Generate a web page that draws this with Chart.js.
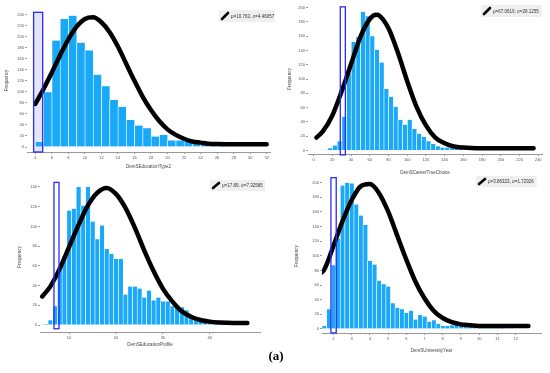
<!DOCTYPE html>
<html>
<head>
<meta charset="utf-8">
<script src="https://cdn.jsdelivr.net/npm/chart.js@4.4.1/dist/chart.umd.min.js"></script>
<style>
body { margin: 0; background: #fff; width: 550px; height: 373px; position: relative; overflow: hidden; }
canvas { position: absolute; }
#caption { position: absolute; left: 0; top: 348px; width: 552px; text-align: center; line-height: 16px;
	font: bold 13px "Liberation Serif", "DejaVu Serif", serif; color: #000; }
</style>
</head>
<body>
<canvas id="c1" width="271" height="169" style="left:4px;top:0px"></canvas>
<canvas id="c2" width="263" height="175" style="left:287px;top:0px"></canvas>
<canvas id="c3" width="248" height="172" style="left:17px;top:175px"></canvas>
<canvas id="c4" width="254" height="181" style="left:294px;top:172px"></canvas>
<div id="caption">(a)</div>
<script>
// panel 1 : DemSEducationType2
const p1Bins = [4.5, 5.5, 6.5, 7.5, 8.5, 9.5, 10.5, 11.5, 12.5, 13.5, 14.5, 15.5, 16.5, 17.5, 18.5, 19.5, 20.5, 21.5, 22.5, 23.5, 24.5, 25.5, 26.5, 27.5, 28.5, 29.5, 30.5, 31.5];
const p1Counts = [9, 99, 193, 232, 238, 189, 175, 131, 110, 85, 73, 49, 39, 34, 19, 22, 12, 12, 13, 12, 7, 7, 2, 1, 1, 1, 0, 1];
const p1CurveX = [4, 5, 6, 7, 8, 9, 10, 11, 12, 13, 14, 15, 16, 17, 18, 19, 20, 21, 22, 23, 24, 25, 26, 28, 30, 32];
const p1CurveY = [78, 105, 135, 166, 195, 218, 232, 235, 226, 208, 182, 151, 120, 91, 67, 47, 32, 22, 15, 10, 8, 6, 5.5, 5, 5, 5];
const p1XTicks = [4, 6, 8, 10, 12, 14, 16, 18, 20, 22, 24, 26, 28, 30, 32];
const p1YTicks = [0, 20, 40, 60, 80, 100, 120, 140, 160, 180, 200, 220, 240];

// panel 2 : DemSCareerTrueChoice
const p2Bins = [7.5, 12.5, 17.5, 22.5, 27.5, 32.5, 37.5, 42.5, 47.5, 52.5, 57.5, 62.5, 67.5, 72.5, 77.5, 82.5, 87.5, 92.5, 97.5, 102.5, 107.5, 112.5, 117.5, 122.5, 127.5, 132.5, 137.5, 142.5, 147.5, 152.5, 157.5, 162.5, 167.5, 172.5, 177.5, 182.5, 187.5, 192.5, 197.5, 202.5, 207.5, 212.5, 217.5];
const p2Counts = [1, 1, 3, 7, 13, 47, 108, 152, 159, 194, 188, 160, 141, 123, 86, 75, 61, 43, 36, 43, 30, 23, 19, 13, 9, 6, 4, 4, 3, 3, 4, 3, 2, 2, 1, 1, 1, 1, 1, 1, 1, 0, 1];
const p2CurveX = [3, 10, 20, 30, 40, 50, 60, 67, 70, 80, 90, 100, 110, 120, 130, 140, 150, 160, 175, 200, 235];
const p2CurveY = [18, 27, 49, 83, 121, 159, 184, 190, 189, 171, 137, 97, 61, 35, 18, 10, 5.5, 4, 3, 3, 3];
const p2XTicks = [0, 20, 40, 60, 80, 100, 120, 140, 160, 180, 200, 220, 240];
const p2YTicks = [0, 20, 40, 60, 80, 100, 120, 140, 160, 180, 200];

// panel 3 : DemSEducationProfile
const p3Bins = [5, 6, 7, 8, 9, 10, 11, 12, 13, 14, 15, 16, 17, 18, 19, 20, 21, 22, 23, 24, 25, 26, 27, 28, 29, 30, 31, 32, 33, 34, 35, 36, 37, 38, 39, 40, 41, 42, 43, 44, 45, 46];
const p3Counts = [1, 5, 19, 57, 70, 116, 118, 140, 121, 140, 105, 87, 101, 77, 72, 67, 67, 31, 39, 39, 37, 28, 35, 25, 28, 24, 24, 19, 18, 18, 15, 9, 6, 5, 4, 3, 3, 2, 1, 1, 1, 1];
const p3CurveX = [4.3, 6, 8, 10, 12, 14, 16, 18, 20, 22, 24, 26, 28, 30, 32, 34, 36, 38, 40, 42, 45, 48];
const p3CurveY = [29, 39, 57, 79, 101, 121, 134, 139, 133, 119, 99, 76, 55, 37, 24, 14, 8.5, 5.2, 3.5, 2.7, 2.2, 2.2];
const p3XTicks = [10, 20, 30, 40];
const p3YTicks = [0, 20, 40, 60, 80, 100, 120, 140];

// panel 4 : DemSUniversityYear
const p4Bins = [1.5, 1.75, 2, 2.25, 2.5, 2.75, 3, 3.25, 3.5, 3.75, 4, 4.25, 4.5, 4.75, 5, 5.25, 5.5, 5.75, 6, 6.25, 6.5, 6.75, 7, 7.25, 7.5, 7.75, 8, 8.25, 8.5, 8.75, 9, 9.25, 9.5, 9.75, 10, 10.25, 10.5, 10.75, 11, 11.25, 11.5, 11.75];
const p4Counts = [4, 27, 87, 123, 196, 200, 199, 170, 155, 142, 93, 88, 66, 61, 58, 35, 29, 27, 22, 25, 13, 19, 17, 10, 12, 7, 4, 4, 5, 6, 6, 4, 3, 4, 6, 3, 3, 5, 6, 2, 1, 1];
const p4CurveX = [1.35, 1.5, 2, 2.5, 3, 3.5, 4, 4.5, 5, 5.5, 6, 6.5, 7, 7.5, 8, 8.5, 9, 9.5, 10, 11, 12, 12.7];
const p4CurveY = [77, 81, 113, 147, 176, 195, 198, 186, 161, 128, 95, 65, 42, 25, 15, 9.3, 6.3, 5, 4, 4, 4, 4];
const p4XTicks = [2, 3, 4, 5, 6, 7, 8, 9, 10, 11, 12];
const p4YTicks = [0, 20, 40, 60, 80, 100, 120, 140, 160, 180, 200];

const xTitles = ['DemSEducationType2', 'DemSCareerTrueChoice', 'DemSEducationProfile', 'DemSUniversityYear'];
const legendTexts = ['μ=10.763, σ=4.46057', 'μ=67.0619, σ=28.1255', 'μ=17.89, σ=7.32585', 'μ=3.86323, σ=1.72926'];

const barColor = '#1aa8f8';
const tickFont = { family: '"Liberation Sans", Arial, sans-serif', size: 4 };
const titleFont = { family: '"Liberation Sans", Arial, sans-serif', size: 4.5 };

// blue selection box + grey legend box
const markerPlugin = {
	id: 'marker',
	beforeDatasetsDraw(chart, args, opts) {
		if (!opts.fill) return;
		const r = boxRect(chart, opts.box);
		chart.ctx.save();
		chart.ctx.fillStyle = opts.fill;
		chart.ctx.fillRect(r.x, r.y, r.w, r.h);
		chart.ctx.restore();
	},
	afterDatasetsDraw(chart, args, opts) {
		const ctx = chart.ctx;
		const r = boxRect(chart, opts.box);
		ctx.save();
		ctx.strokeStyle = '#2b2bf5';
		ctx.lineWidth = 1.3;
		ctx.strokeRect(r.x, r.y, r.w, r.h);

		// legend
		ctx.font = '4.5px "Liberation Sans", Arial, sans-serif';
		const tw = ctx.measureText(opts.text).width;
		const L = opts.legend[0], T = opts.legend[1], H = opts.legend[2];
		ctx.fillStyle = '#efefef';
		ctx.fillRect(L, T, tw + 15, H);
		ctx.strokeStyle = '#000';
		ctx.lineWidth = 2.6;
		ctx.lineCap = 'round';
		ctx.beginPath();
		ctx.moveTo(L + 3, T + H - 3);
		ctx.lineTo(L + 9, T + 3);
		ctx.stroke();
		ctx.fillStyle = '#333';
		ctx.textBaseline = 'middle';
		ctx.fillText(opts.text, L + 12, T + H / 2 + 0.5);
		ctx.restore();
	}
};

function boxRect(chart, b) {
	const xs = chart.scales.x, ys = chart.scales.y;
	const x0 = xs.getPixelForValue(b[0]), x1 = xs.getPixelForValue(b[1]);
	const y0 = ys.getPixelForValue(b[2]), y1 = ys.getPixelForValue(b[3]);
	return { x: x0, y: y1, w: x1 - x0, h: y0 - y1 };
}

function makePanel(id, p) {
	const ctx = document.getElementById(id);
	return new Chart(ctx, {
		type: 'bar',
		data: {
			datasets: [{
				type: 'line',
				data: p.curveX.map((x, i) => ({ x: x, y: p.curveY[i] })),
				borderColor: '#000',
				borderWidth: 4.5,
				borderCapStyle: 'round',
				pointRadius: 0,
				cubicInterpolationMode: 'monotone',
				order: 0
			}, {
				data: p.bins.map((x, i) => ({ x: x, y: p.counts[i] })),
				backgroundColor: barColor,
				borderColor: 'rgba(255,255,255,0.85)',
				borderWidth: { left: 0.8, right: 0, top: 0, bottom: 0 },
				borderSkipped: false,
				barPercentage: 1,
				categoryPercentage: 1,
				order: 1
			}]
		},
		options: {
			responsive: false,
			animation: false,
			layout: { padding: { left: 0, right: p.padR, top: p.padT, bottom: 0 } },
			plugins: {
				legend: { display: false },
				tooltip: { enabled: false },
				marker: { box: p.box, fill: p.boxFill, text: p.text, legend: p.legend }
			},
			scales: {
				x: {
					type: 'linear',
					min: p.xMin, max: p.xMax,
					offset: false,
					afterBuildTicks: s => { s.ticks = p.xTicks.map(v => ({ value: v })); },
					afterFit: s => { s.height = p.hX; },
					grid: { display: true, drawOnChartArea: false, drawTicks: true, tickLength: 2, color: '#999', offset: false },
					border: { display: true, color: '#999', width: 1 },
					ticks: { font: tickFont, color: '#555', padding: 1, maxRotation: 0, autoSkip: false },
					title: { display: true, text: p.xTitle, font: titleFont, color: '#444', padding: 0 }
				},
				y: {
					min: p.yMin, max: p.yMax,
					afterBuildTicks: s => { s.ticks = p.yTicks.map(v => ({ value: v })); },
					afterFit: s => { s.width = p.wY; },
					grid: { display: true, drawOnChartArea: false, drawTicks: true, tickLength: 2, color: '#999' },
					border: { display: false },
					ticks: { font: tickFont, color: '#555', padding: 1 },
					title: { display: true, text: 'Frequency', font: titleFont, color: '#444', padding: 0 }
				}
			}
		},
		plugins: [markerPlugin]
	});
}

window.onload = () => {
	makePanel('c1', {
		bins: p1Bins, counts: p1Counts, curveX: p1CurveX, curveY: p1CurveY,
		xTicks: p1XTicks, yTicks: p1YTicks, xTitle: xTitles[0], text: legendTexts[0],
		xMin: 3.0, xMax: 32.4, yMin: -9, yMax: 250,
		wY: 23, hX: 17, padR: 5, padT: 9,
		box: [3.8, 4.9, -9, 244], boxFill: 'rgba(205,205,250,0.55)', legend: [215, 10, 12]
	});
	makePanel('c2', {
		bins: p2Bins, counts: p2Counts, curveX: p2CurveX, curveY: p2CurveY,
		xTicks: p2XTicks, yTicks: p2YTicks, xTitle: xTitles[1], text: legendTexts[1],
		xMin: -6, xMax: 244, yMin: -5, yMax: 205,
		wY: 21, hX: 21, padR: 8, padT: 4,
		box: [28.5, 33.9, -6.2, 201], boxFill: null, legend: [194, 5, 12]
	});
	makePanel('c3', {
		bins: p3Bins, counts: p3Counts, curveX: p3CurveX, curveY: p3CurveY,
		xTicks: p3XTicks, yTicks: p3YTicks, xTitle: xTitles[2], text: legendTexts[2],
		xMin: 3.82, xMax: 50.7, yMin: -7, yMax: 145,
		wY: 23, hX: 15, padR: 5, padT: 7,
		box: [6.8, 7.87, -3.7, 144.6], boxFill: null, legend: [193, 5, 11]
	});
	makePanel('c4', {
		bins: p4Bins, counts: p4Counts, curveX: p4CurveX, curveY: p4CurveY,
		xTicks: p4XTicks, yTicks: p4YTicks, xTitle: xTitles[3], text: legendTexts[3],
		xMin: 1.38, xMax: 13.39, yMin: -5.5, yMax: 205,
		wY: 28, hX: 20, padR: 7, padT: 7,
		box: [1.87, 2.16, -5.4, 206.8], boxFill: null, legend: [182, 4, 11]
	});
};
</script>
</body>
</html>
